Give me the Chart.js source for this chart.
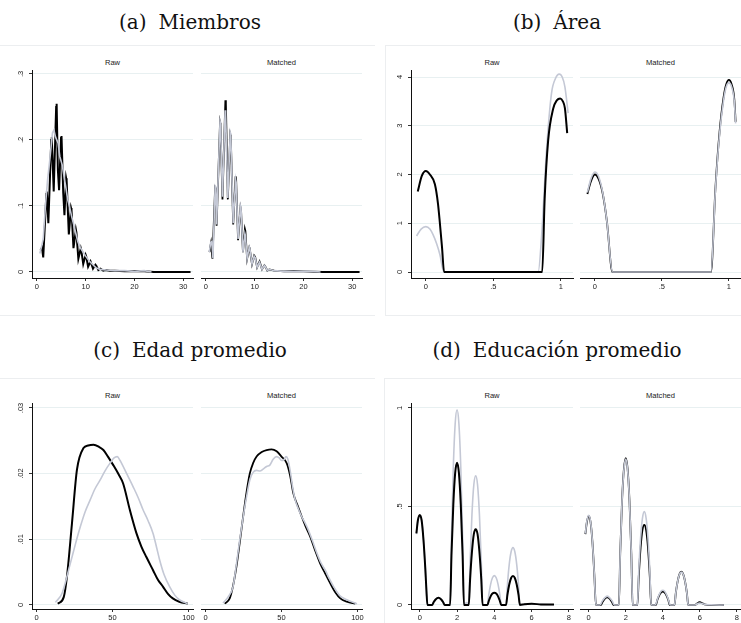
<!DOCTYPE html>
<html>
<head>
<meta charset="utf-8">
<script src="https://cdn.jsdelivr.net/npm/chart.js@4.4.0/dist/chart.umd.min.js"></script>
<style>
  body { margin: 0; width: 741px; height: 623px; overflow: hidden; position: relative; background: #fff; font-family: "Liberation Sans", Arial, sans-serif; }
  .title { position: absolute; font-family: "DejaVu Serif", "Liberation Serif", serif; font-size: 20px; line-height: 22px; color: #111; white-space: nowrap; transform: translateX(-50%); }
  .title span + span { margin-left: 12px; }
  .sub { position: absolute; font-size: 7.6px; line-height: 8px; color: #222; white-space: nowrap; transform: translate(-50%, -50%); }
  .frame { position: absolute; border: 1px solid #eceef0; }
  canvas { position: absolute; }
</style>
</head>
<body>

<div class="frame" style="left:-2px; top:45px; width:376px; height:269px; border-right:none;"></div>
<div class="frame" style="left:385px; top:45px; width:370px; height:269px;"></div>
<div class="frame" style="left:-2px; top:378px; width:376px; height:260px; border-right:none;"></div>
<div class="frame" style="left:384px; top:378px; width:370px; height:260px;"></div>

<div class="title" style="left:190px; top:11px;"><span>(a)</span><span>Miembros</span></div>
<div class="title" style="left:557px; top:11px;"><span>(b)</span><span>Área</span></div>
<div class="title" style="left:190px; top:339px;"><span>(c)</span><span>Edad promedio</span></div>
<div class="title" style="left:557px; top:339px;"><span>(d)</span><span>Educación promedio</span></div>

<script>
// axis ticks
const miembrosXTicks = [0, 10, 20, 30];
const miembrosXLabels = ['0', '10', '20', '30'];
const miembrosYTicks = [0, 0.1, 0.2, 0.3];
const miembrosYLabels = ['0', '.1', '.2', '.3'];

const areaXTicks = [0, 0.5, 1];
const areaXLabels = ['0', '.5', '1'];
const areaYTicks = [0, 1, 2, 3, 4];
const areaYLabels = ['0', '1', '2', '3', '4'];

const edadXTicks = [0, 50, 100];
const edadXLabels = ['0', '50', '100'];
const edadYTicks = [0, 0.01, 0.02, 0.03];
const edadYLabels = ['0', '.01', '.02', '.03'];

const educXTicks = [0, 2, 4, 6, 8];
const educXLabels = ['0', '2', '4', '6', '8'];
const educYTicks = [0, 0.5, 1];
const educYLabels = ['0', '.5', '1'];

// densities [x, y]: treated (black) and control (gray)
const miembrosRawTreated = [[0.75,0.033],[1.05,0.037],[1.3,0.022],[1.95,0.118],[2.05,0.122],[2.35,0.074],[2.95,0.2],[3.05,0.204],[3.45,0.122],[3.95,0.25],[4.05,0.255],[4.3,0.155],[4.55,0.124],[4.95,0.203],[5.05,0.206],[5.4,0.12],[5.65,0.086],[6.0,0.142],[6.1,0.138],[6.55,0.057],[7.0,0.097],[7.1,0.094],[7.5,0.036],[8.0,0.064],[8.1,0.06],[8.5,0.02],[9.0,0.036],[9.1,0.033],[9.5,0.012],[10.0,0.026],[10.1,0.024],[10.5,0.008],[11.0,0.016],[11.1,0.014],[11.5,0.005],[12.0,0.011],[12.2,0.009],[12.6,0.003],[13,0.005],[13.6,0.002],[14,0.003],[15,0.002],[16,0.002],[18,0.001],[20,0.0015],[22,0.001],[24,0],[31.5,0]];
const miembrosRawControl = [[0.6,0.028],[1.0,0.04],[1.3,0.05],[1.8,0.105],[2.2,0.14],[2.65,0.17],[3.2,0.211],[3.5,0.215],[3.8,0.205],[4.35,0.195],[4.7,0.175],[5.2,0.162],[5.5,0.148],[5.9,0.13],[6.3,0.11],[6.7,0.099],[7.1,0.085],[7.55,0.072],[8.0,0.058],[8.4,0.046],[8.9,0.037],[9.4,0.031],[10,0.024],[10.8,0.016],[11.5,0.011],[12.2,0.006],[13,0.004],[14.2,0.003],[16,0.002],[18,0.002],[20,0.001],[22,0.002],[23.5,0]];
const miembrosMatchedTreated = [[0.75,0.03],[0.9,0.038],[1.05,0.044],[1.35,0.02],[1.9,0.128],[2.05,0.126],[2.2,0.07],[2.9,0.226],[3.0,0.222],[3.4,0.11],[4.0,0.26],[4.1,0.255],[4.5,0.11],[5.0,0.208],[5.1,0.205],[5.6,0.072],[6.1,0.145],[6.2,0.14],[6.6,0.048],[7.1,0.098],[7.2,0.095],[7.6,0.03],[8.0,0.065],[8.1,0.062],[8.45,0.02],[8.9,0.037],[9.0,0.035],[9.45,0.012],[9.9,0.025],[10.1,0.023],[10.5,0.007],[11,0.016],[11.1,0.014],[11.5,0.004],[12,0.01],[12.2,0.008],[12.6,0.002],[13,0.004],[14,0.002],[16,0.001],[18,0.0015],[20,0.001],[24,0],[31.5,0]];
const miembrosMatchedControl = [[0.7,0.03],[1.0,0.045],[1.2,0.046],[1.45,0.021],[1.9,0.13],[2.05,0.128],[2.2,0.072],[2.9,0.228],[3.0,0.225],[3.4,0.114],[3.95,0.245],[4.05,0.24],[4.5,0.112],[5.0,0.211],[5.1,0.208],[5.6,0.074],[6.1,0.14],[6.2,0.136],[6.6,0.05],[7.1,0.1],[7.2,0.097],[7.6,0.03],[8.0,0.058],[8.1,0.055],[8.45,0.02],[8.9,0.038],[9.0,0.036],[9.45,0.012],[9.9,0.024],[10.1,0.022],[10.5,0.007],[11,0.015],[11.1,0.013],[11.5,0.004],[12,0.01],[12.2,0.008],[12.6,0.002],[13,0.004],[14,0.002],[16,0.001],[18,0.001],[20,0.001],[22,0.001],[23.5,0]];

const areaRawTreated = [[-0.06,1.65],[-0.03,1.97],[0,2.07],[0.03,2.0],[0.067,1.8],[0.09,1.4],[0.104,1.0],[0.12,0.5],[0.135,0],[0.862,0],[0.88,1.5],[0.906,2.7],[0.943,3.35],[0.97,3.52],[0.995,3.56],[1.015,3.5],[1.03,3.36],[1.047,2.85]];
const areaRawControl = [[-0.069,0.74],[-0.035,0.88],[0,0.93],[0.03,0.88],[0.054,0.76],[0.08,0.58],[0.104,0.36],[0.133,0],[0.832,0],[0.857,0.72],[0.894,2.5],[0.931,3.67],[0.96,3.97],[0.988,4.06],[1.01,4.0],[1.03,3.8],[1.054,3.26]];
const areaMatchedTreated = [[-0.055,1.6],[-0.03,1.85],[0,2.0],[0.03,1.9],[0.06,1.6],[0.09,1.05],[0.132,0],[0.866,0],[0.9,1.75],[0.93,2.87],[0.96,3.58],[0.98,3.85],[1.0,3.94],[1.02,3.85],[1.04,3.55],[1.05,3.08]];
const areaMatchedControl = [[-0.055,1.63],[-0.03,1.9],[0,2.05],[0.03,1.95],[0.06,1.62],[0.09,1.05],[0.132,0],[0.866,0],[0.9,1.72],[0.93,2.82],[0.96,3.52],[0.98,3.8],[1.0,3.88],[1.02,3.8],[1.04,3.5],[1.05,3.05]];

const edadRawTreated = [[14,0.0002],[17.9,0.0012],[20,0.0043],[23.3,0.0124],[26.6,0.0206],[30.9,0.0239],[34,0.0243],[37.5,0.0244],[41,0.0241],[44,0.0236],[47,0.0226],[50.5,0.0213],[54,0.0199],[57,0.0185],[61.4,0.0145],[65.8,0.0109],[69,0.0089],[72.3,0.0073],[76.7,0.0053],[80,0.0038],[83.2,0.0028],[86.5,0.0017],[89.7,0.001],[94,0.0005],[99.5,0.0002]];
const edadRawControl = [[12.4,0.0004],[16.8,0.0018],[22.2,0.0063],[25.5,0.0092],[28.8,0.0119],[32,0.0142],[35.3,0.016],[38.5,0.0177],[41.8,0.019],[45,0.0204],[48.4,0.0216],[51,0.0224],[53.1,0.0226],[55,0.022],[57,0.0211],[60,0.0197],[63.6,0.018],[67,0.0163],[70.1,0.0145],[73.5,0.0128],[76.7,0.0109],[79,0.0088],[81,0.0069],[84,0.0046],[87.6,0.0028],[91,0.0015],[94,0.0008],[99.5,0.0002]];
const edadMatchedTreated = [[12.6,0.0002],[15.9,0.001],[18,0.0028],[20.3,0.0058],[22.5,0.0095],[24.7,0.0134],[27,0.0172],[29.1,0.02],[31.3,0.0216],[33.6,0.0226],[37,0.0233],[40.2,0.0236],[43.5,0.0237],[46.8,0.0234],[50,0.0226],[53.4,0.0216],[55.6,0.0198],[57.8,0.017],[60.5,0.0152],[63.4,0.0134],[66,0.0119],[68.9,0.0104],[72,0.0084],[75.5,0.0063],[78.8,0.0048],[82.1,0.0033],[85.5,0.0019],[88.7,0.001],[93,0.0005],[98.6,0.0002]];
const edadMatchedControl = [[11.5,0.0003],[14.8,0.0012],[18.1,0.0028],[20.3,0.0062],[22.5,0.0099],[24.7,0.0133],[27,0.0165],[29.1,0.019],[31.3,0.0202],[33.6,0.0205],[35.8,0.0204],[37.9,0.0207],[40.2,0.0211],[42.3,0.0213],[44.5,0.0222],[46.8,0.0226],[48.5,0.0224],[50,0.022],[51.5,0.0221],[53,0.0226],[54.2,0.0222],[55.6,0.0206],[57.3,0.018],[59,0.016],[61,0.0147],[63.4,0.0134],[65.5,0.0125],[67.7,0.0114],[70.5,0.0097],[73.3,0.0079],[76,0.0064],[78.8,0.0053],[81.5,0.004],[84.3,0.0028],[88.5,0.0014],[93,0.0008],[99.7,0.0002]];

const educRawTreated = [[-0.18,0.364],[-0.1,0.43],[0,0.457],[0.1,0.43],[0.2,0.33],[0.3,0.18],[0.36,0.07],[0.41,0],[0.66,0],[0.75,0.015],[0.85,0.028],[1.0,0.037],[1.15,0.028],[1.25,0.015],[1.34,0],[1.63,0],[1.7,0.25],[1.8,0.51],[1.9,0.67],[2.0,0.722],[2.1,0.67],[2.2,0.51],[2.3,0.25],[2.37,0],[2.63,0],[2.7,0.13],[2.8,0.27],[2.9,0.36],[3.0,0.384],[3.1,0.36],[3.2,0.27],[3.3,0.13],[3.37,0],[3.63,0],[3.7,0.02],[3.8,0.044],[3.9,0.058],[4.0,0.062],[4.1,0.058],[4.2,0.044],[4.3,0.02],[4.37,0],[4.63,0],[4.7,0.05],[4.8,0.104],[4.9,0.137],[5.0,0.147],[5.1,0.137],[5.2,0.104],[5.3,0.05],[5.37,0],[5.6,0.004],[6.0,0.006],[6.5,0.003],[7.2,0.002]];
const educRawControl = [[-0.18,0.36],[-0.1,0.428],[0,0.455],[0.1,0.428],[0.2,0.33],[0.3,0.18],[0.36,0.07],[0.41,0],[0.64,0],[0.75,0.016],[0.85,0.03],[1.0,0.038],[1.15,0.03],[1.25,0.016],[1.36,0],[1.63,0],[1.7,0.34],[1.8,0.7],[1.9,0.92],[2.0,0.99],[2.1,0.92],[2.2,0.7],[2.3,0.34],[2.37,0],[2.45,0.008],[2.52,0.012],[2.6,0.006],[2.63,0],[2.7,0.22],[2.8,0.46],[2.9,0.61],[3.0,0.655],[3.1,0.61],[3.2,0.46],[3.3,0.22],[3.37,0],[3.63,0],[3.7,0.05],[3.8,0.105],[3.9,0.138],[4.0,0.149],[4.1,0.138],[4.2,0.105],[4.3,0.05],[4.37,0],[4.63,0],[4.7,0.1],[4.8,0.206],[4.9,0.27],[5.0,0.291],[5.1,0.27],[5.2,0.206],[5.3,0.1],[5.37,0],[5.6,0.003],[6.0,0.005],[6.5,0.003],[7.2,0.001]];
const educMatchedTreated = [[-0.18,0.36],[-0.1,0.42],[0,0.452],[0.1,0.42],[0.2,0.32],[0.3,0.16],[0.39,0],[0.66,0],[0.75,0.016],[0.85,0.03],[1.0,0.039],[1.15,0.03],[1.25,0.016],[1.34,0],[1.63,0],[1.7,0.26],[1.8,0.53],[1.9,0.69],[2.0,0.745],[2.1,0.69],[2.2,0.53],[2.3,0.26],[2.37,0],[2.63,0],[2.7,0.14],[2.8,0.29],[2.9,0.38],[3.0,0.406],[3.1,0.38],[3.2,0.29],[3.3,0.14],[3.37,0],[3.63,0],[3.7,0.024],[3.8,0.048],[3.9,0.063],[4.0,0.068],[4.1,0.063],[4.2,0.048],[4.3,0.024],[4.37,0],[4.63,0],[4.7,0.06],[4.8,0.12],[4.9,0.157],[5.0,0.169],[5.1,0.157],[5.2,0.12],[5.3,0.06],[5.37,0],[5.75,0],[5.85,0.008],[6.0,0.014],[6.15,0.008],[6.3,0.002],[6.6,0.001],[7.3,0]];
const educMatchedControl = [[-0.18,0.362],[-0.1,0.424],[0,0.455],[0.1,0.424],[0.2,0.32],[0.3,0.16],[0.39,0],[0.62,0],[0.72,0.018],[0.85,0.035],[1.0,0.045],[1.15,0.035],[1.28,0.018],[1.38,0],[1.63,0],[1.7,0.26],[1.8,0.53],[1.9,0.685],[2.0,0.74],[2.1,0.685],[2.2,0.53],[2.3,0.26],[2.37,0],[2.63,0],[2.7,0.17],[2.8,0.34],[2.9,0.44],[3.0,0.474],[3.1,0.44],[3.2,0.34],[3.3,0.17],[3.37,0],[3.6,0],[3.7,0.027],[3.8,0.053],[3.9,0.07],[4.0,0.075],[4.1,0.07],[4.2,0.053],[4.3,0.027],[4.4,0],[4.63,0],[4.7,0.06],[4.8,0.12],[4.9,0.156],[5.0,0.167],[5.1,0.156],[5.2,0.12],[5.3,0.06],[5.37,0],[5.75,0],[5.85,0.006],[6.0,0.01],[6.15,0.006],[6.3,0.002],[6.6,0.001],[7.3,0]];

const BLACK = '#000000';
const GRAY = '#c4c8d5';
const GRID = '#e8f0f1';
const TEXT = '#222222';
const TICK_SIZE = 7.5;

const measureCtx = document.createElement('canvas').getContext('2d');
measureCtx.font = TICK_SIZE + 'px "Liberation Sans"';

function addLabel(text, cx, cy) {
  const d = document.createElement('div');
  d.className = 'sub';
  d.textContent = text;
  d.style.left = cx + 'px';
  d.style.top = cy + 'px';
  document.body.appendChild(d);
}

// one Stata-style subplot; area = plot region [left, top, right, bottom] in page px
function drawPlot(area, spec, lines, withYAxis, smooth) {
  const [x0, y0, x1, y1] = area;
  const padL = withYAxis ? 22 : 6, padR = 8, padT = 5, axisH = 14;
  const canvas = document.createElement('canvas');
  canvas.width = x1 - x0 + padL + padR;
  canvas.height = y1 - y0 + padT + axisH;
  canvas.style.left = (x0 - padL) + 'px';
  canvas.style.top = (y0 - padT) + 'px';
  document.body.appendChild(canvas);

  // rotated y labels are centred on their tick, ~11px left of the axis
  const widest = Math.max(...spec.yLabels.map(s => measureCtx.measureText(s).width));
  const yPad = 11.3 - 3 - widest / 2;

  new Chart(canvas, {
    type: 'line',
    data: {
      datasets: lines.map(l => ({
        data: l.points.map(p => ({ x: p[0], y: p[1] })),
        borderColor: l.color,
        borderWidth: l.width,
        pointRadius: 0,
        fill: false,
        order: l.order,
        cubicInterpolationMode: smooth ? 'monotone' : 'default',
        tension: 0
      }))
    },
    options: {
      responsive: false,
      animation: false,
      events: [],
      layout: { padding: { left: withYAxis ? 2 : padL, right: padR, top: padT, bottom: 0 } },
      plugins: { legend: { display: false }, tooltip: { enabled: false } },
      scales: {
        x: {
          type: 'linear',
          min: spec.xRange[0],
          max: spec.xRange[1],
          afterBuildTicks: s => { s.ticks = spec.xTicks.map(v => ({ value: v })); },
          afterFit: s => { s.height = axisH; s.paddingLeft = 0; s.paddingRight = 0; },
          ticks: {
            autoSkip: false, maxRotation: 0, minRotation: 0, padding: 1,
            color: TEXT, font: { family: 'Liberation Sans', size: TICK_SIZE },
            callback: (v, i) => spec.xLabels[i]
          },
          grid: { drawOnChartArea: false, drawTicks: true, tickLength: 3, tickColor: '#333', tickWidth: 1 },
          border: { display: true, color: '#111', width: 1 }
        },
        y: {
          type: 'linear',
          min: spec.yRange[0],
          max: spec.yRange[1],
          afterBuildTicks: s => { s.ticks = spec.yTicks.map(v => ({ value: v })); },
          afterFit: s => { s.width = withYAxis ? 20 : 0; s.paddingTop = 0; s.paddingBottom = 0; },
          ticks: {
            display: withYAxis,
            autoSkip: false, minRotation: 90, maxRotation: 90,
            crossAlign: 'center', padding: yPad,
            color: TEXT, font: { family: 'Liberation Sans', size: TICK_SIZE },
            callback: (v, i) => spec.yLabels[i]
          },
          grid: { color: GRID, lineWidth: 1, drawTicks: withYAxis, tickLength: 3, tickColor: '#333', tickWidth: 1 },
          border: { display: withYAxis, color: '#111', width: 1 }
        }
      }
    }
  });
}

function drawPanel(spec, rawArea, matchedArea, raw, matched, smooth, rawBlackOnTop) {
  const topLabelY = rawArea[1] - 7;
  addLabel('Raw', (rawArea[0] + rawArea[2]) / 2, topLabelY);
  addLabel('Matched', (matchedArea[0] + matchedArea[2]) / 2, topLabelY);
  drawPlot(rawArea, spec, [
    { points: raw[0], color: BLACK, width: 2, order: rawBlackOnTop ? 0 : 1 },
    { points: raw[1], color: GRAY, width: 1.6, order: rawBlackOnTop ? 1 : 0 }
  ], true, smooth);
  drawPlot(matchedArea, spec, [
    { points: matched[0], color: BLACK, width: 1.8, order: 1 },
    { points: matched[1], color: GRAY, width: 1.6, order: 0 }
  ], false, smooth);
}

drawPanel(
  { xRange: [-1, 32], yRange: [-0.0091, 0.306], xTicks: miembrosXTicks, xLabels: miembrosXLabels, yTicks: miembrosYTicks, yLabels: miembrosYLabels },
  [32, 70, 193, 278], [201, 70, 362, 278],
  [miembrosRawTreated, miembrosRawControl], [miembrosMatchedTreated, miembrosMatchedControl], false, false
);
drawPanel(
  { xRange: [-0.11, 1.09], yRange: [-0.123, 4.144], xTicks: areaXTicks, xLabels: areaXLabels, yTicks: areaYTicks, yLabels: areaYLabels },
  [411, 70, 573, 278], [580, 70, 741, 278],
  [areaRawTreated, areaRawControl], [areaMatchedTreated, areaMatchedControl], true, true
);
drawPanel(
  { xRange: [-3, 103], yRange: [-0.00061, 0.03076], xTicks: edadXTicks, xLabels: edadXLabels, yTicks: edadYTicks, yLabels: edadYLabels },
  [32, 403, 193, 609], [201, 403, 362, 609],
  [edadRawTreated, edadRawControl], [edadMatchedTreated, edadMatchedControl], true, false
);
drawPanel(
  { xRange: [-0.47, 8.22], yRange: [-0.0203, 1.025], xTicks: educXTicks, xLabels: educXLabels, yTicks: educYTicks, yLabels: educYLabels },
  [411, 403, 573, 609], [580, 403, 741, 609],
  [educRawTreated, educRawControl], [educMatchedTreated, educMatchedControl], true, true
);
</script>
</body>
</html>
